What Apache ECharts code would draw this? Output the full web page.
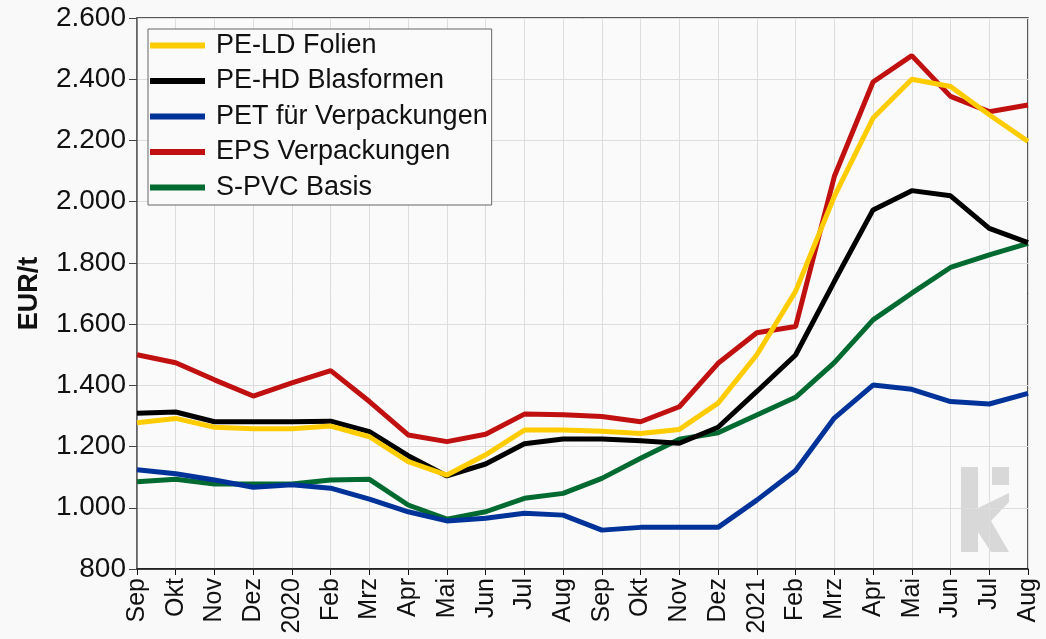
<!DOCTYPE html>
<html>
<head>
<meta charset="utf-8">
<script src="https://cdn.jsdelivr.net/npm/echarts@6/dist/echarts.min.js"></script>
<style>
  html, body { margin: 0; padding: 0; background: #f9f9f9; }
  #chart { width: 1046px; height: 639px; }
</style>
</head>
<body>
<div id="chart"></div>
<script>
const months = ['Sep', 'Okt', 'Nov', 'Dez', '2020', 'Feb', 'Mrz', 'Apr', 'Mai', 'Jun', 'Jul', 'Aug',
  'Sep', 'Okt', 'Nov', 'Dez', '2021', 'Feb', 'Mrz', 'Apr', 'Mai', 'Jun', 'Jul', 'Aug']

const peLd = [1278, 1292, 1263, 1258, 1258, 1267, 1232, 1151, 1107, 1173, 1254, 1254,
  1250, 1243, 1256, 1342, 1500, 1707, 2017, 2273, 2400, 2376, 2284, 2197]
const peHd = [1309, 1313, 1281, 1281, 1281, 1283, 1249, 1170, 1104, 1143, 1209, 1225,
  1225, 1219, 1211, 1263, 1380, 1499, 1739, 1973, 2036, 2019, 1913, 1866]
const pet = [1124, 1111, 1091, 1067, 1075, 1064, 1028, 987, 957, 966, 982, 976,
  927, 936, 936, 936, 1025, 1122, 1293, 1401, 1387, 1347, 1339, 1374]
const eps = [1500, 1474, 1418, 1365, 1408, 1448, 1347, 1238, 1216, 1240, 1306, 1304,
  1298, 1281, 1330, 1472, 1572, 1592, 2082, 2391, 2477, 2344, 2294, 2316]
const sPvc = [1085, 1093, 1078, 1078, 1078, 1091, 1093, 1009, 963, 987, 1031, 1047,
  1096, 1162, 1224, 1245, 1303, 1361, 1474, 1614, 1701, 1785, 1826, 1864]

const seriesList = [
  { name: 'PE-LD Folien', data: peLd, color: '#ffcc00', z: 6 },
  { name: 'PE-HD Blasformen', data: peHd, color: '#000000', z: 5 },
  { name: 'PET für Verpackungen', data: pet, color: '#003399', z: 3 },
  { name: 'EPS Verpackungen', data: eps, color: '#c01010', z: 4 },
  { name: 'S-PVC Basis', data: sPvc, color: '#006a30', z: 2 }
]

const fontFamily = '"Liberation Sans", Arial, sans-serif'

const chart = echarts.init(document.getElementById('chart'))

chart.setOption({
  backgroundColor: '#f9f9f9',
  animation: false,
  textStyle: { fontFamily },
  grid: {
    left: 137,
    right: 18,
    top: 18,
    bottom: 70,
    show: true,
    backgroundColor: '#fafafa',
    borderColor: '#222',
    borderWidth: 1.5
  },
  legend: {
    orient: 'vertical',
    left: 148,
    top: 29,
    padding: [3, 4, 4, 2],
    itemGap: 8.5,
    itemWidth: 55,
    itemHeight: 6,
    icon: 'rect',
    backgroundColor: '#fafafa',
    borderColor: '#666',
    borderWidth: 1,
    textStyle: { fontSize: 27, lineHeight: 26, color: '#111', fontFamily, padding: [0, 0, 0, 6] },
    data: seriesList.map(s => s.name)
  },
  xAxis: {
    type: 'category',
    data: months,
    boundaryGap: false,
    axisLine: { lineStyle: { color: '#111', width: 1.5 } },
    axisTick: { show: true, alignWithLabel: true, length: 6, lineStyle: { color: '#111' } },
    axisLabel: {
      rotate: 90,
      interval: 0,
      margin: 9,
      fontSize: 25,
      color: '#111',
      fontFamily
    },
    splitLine: { show: true, lineStyle: { color: '#dddddd', width: 1 } }
  },
  yAxis: {
    type: 'value',
    min: 800,
    max: 2600,
    interval: 200,
    name: 'EUR/t',
    nameLocation: 'middle',
    nameRotate: 90,
    nameGap: 94,
    nameTextStyle: { fontSize: 27, fontWeight: 'bold', color: '#111', fontFamily },
    axisLine: { show: true, lineStyle: { color: '#666', width: 1.5 } },
    axisTick: { show: true, length: 8, lineStyle: { color: '#444' } },
    axisLabel: {
      fontSize: 28,
      color: '#111',
      margin: 11,
      fontFamily,
      formatter: v => v >= 1000 ? Math.floor(v / 1000) + '.' + String(v % 1000).padStart(3, '0') : String(v)
    },
    splitLine: { show: true, lineStyle: { color: '#dddddd', width: 1 } }
  },
  graphic: [
    { type: 'rect', left: 961, top: 467, shape: { width: 17, height: 85 }, style: { fill: '#d8d8d8' }, z: 0 },
    { type: 'rect', left: 992, top: 467, shape: { width: 17, height: 18 }, style: { fill: '#d8d8d8' }, z: 0 },
    {
      type: 'polygon',
      shape: { points: [[978, 508], [1009, 493], [1009, 502], [991, 521], [1009, 552], [991, 552], [978, 532]] },
      style: { fill: '#d8d8d8' },
      z: 0
    }
  ],
  series: seriesList.map(s => ({
    name: s.name,
    type: 'line',
    data: s.data,
    z: s.z,
    symbol: 'none',
    color: s.color,
    lineStyle: { width: 5, color: s.color }
  }))
})
</script>
</body>
</html>
